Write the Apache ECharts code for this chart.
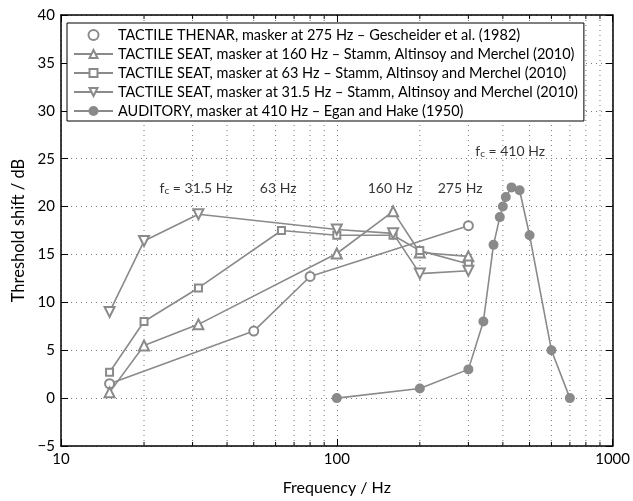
<!DOCTYPE html>
<html>
<head>
<meta charset="utf-8">
<script src="https://cdn.jsdelivr.net/npm/echarts@6/dist/echarts.min.js"></script>
<style>
html,body{margin:0;padding:0;background:#fff;}
#chart{width:633px;height:501px;}
</style>
</head>
<body>
<div id="chart"></div>
<script>
// ---------- data ----------
const seriesNames = [
  'TACTILE THENAR, masker at 275 Hz – Gescheider et al. (1982)',
  'TACTILE SEAT, masker at 160 Hz – Stamm, Altinsoy and Merchel (2010)',
  'TACTILE SEAT, masker at 63 Hz – Stamm, Altinsoy and Merchel (2010)',
  'TACTILE SEAT, masker at 31.5 Hz – Stamm, Altinsoy and Merchel (2010)',
  'AUDITORY, masker at 410 Hz – Egan and Hake (1950)'
];
const thenarFreq = [15, 50, 80, 300];
const thenarShift = [1.5, 7.0, 12.7, 18.0];
const seat160Freq = [15, 20, 31.5, 100, 160, 200, 300];
const seat160Shift = [0.6, 5.5, 7.7, 15.1, 19.5, 15.2, 14.8];
const seat63Freq = [15, 20, 31.5, 63, 100, 160, 200, 300];
const seat63Shift = [2.7, 8.0, 11.5, 17.5, 17.0, 17.0, 15.4, 14.0];
const seat31Freq = [15, 20, 31.5, 100, 160, 200, 300];
const seat31Shift = [9.0, 16.4, 19.2, 17.6, 17.2, 13.0, 13.3];
const audFreq = [100, 200, 300, 340, 370, 390, 400, 410, 430, 460, 500, 600, 700];
const audShift = [0, 1.0, 3.0, 8.0, 16.0, 18.9, 20.0, 21.0, 22.0, 21.7, 17.0, 5.0, 0];
const minorFreqs = [20, 30, 40, 50, 60, 70, 80, 90, 200, 300, 400, 500, 600, 700, 800, 900];
const annotText = ['{i|f}{s|c}{i| = 31.5 Hz}', '{i|63 Hz}', '{i|160 Hz}', '{i|275 Hz}', '{i|f}{s|c}{i| = 410 Hz}'];
const annotFreq = [30.9, 61.3, 156, 280, 425];
const annotShift = [21.9, 21.9, 21.9, 21.9, 25.8];
const xMin = 10, xMax = 1000, yMin = -5, yMax = 40, yStep = 5;

// ---------- chart ----------
const FONT = 'Lato';
const GRAY = '#8a8a8a';
const zip = (a, b) => a.map((v, i) => [v, b[i]]);

const chart = echarts.init(document.getElementById('chart'), null, {renderer: 'canvas'});

function lineSeries(name, fx, fy, symbol, size, rotate) {
  return {
    name: name, type: 'line', data: zip(fx, fy), xAxisIndex: 0, yAxisIndex: 0,
    symbol: symbol, symbolSize: size, symbolRotate: rotate || 0, showAllSymbol: true,
    color: GRAY,
    lineStyle: {color: GRAY, width: 1.6},
    itemStyle: {color: GRAY, borderColor: GRAY, borderWidth: 1.5},
    emphasis: {disabled: true}, z: 5, animation: false
  };
}

const axisCommonX = {
  type: 'log', logBase: 10, min: xMin, max: xMax,
  axisLine: {show: true, onZero: false, lineStyle: {color: '#000', width: 1.5}},
  axisTick: {show: true, inside: true, length: 7, lineStyle: {color: '#000', width: 1}},
  minorTick: {show: false}
};
const axisCommonY = {
  type: 'value', min: yMin, max: yMax, interval: yStep,
  axisLine: {show: true, onZero: false, lineStyle: {color: '#000', width: 1.5}},
  axisTick: {show: true, inside: true, length: 7, lineStyle: {color: '#000', width: 1}}
};

const option = {
  backgroundColor: '#fff',
  animation: false,
  textStyle: {fontFamily: FONT},
  grid: {left: 61, right: 16, top: 15, bottom: 46.5, containLabel: false},
  xAxis: [
    Object.assign({}, axisCommonX, {
      position: 'bottom',
      name: 'Frequency / Hz', nameLocation: 'middle', nameGap: 34,
      nameTextStyle: {fontFamily: FONT, fontSize: 16, color: '#000'},
      axisLabel: {show: true, margin: 6, fontFamily: FONT, fontSize: 15, color: '#000',
        formatter: v => String(v)},
      splitLine: {show: true, lineStyle: {color: '#777', width: 1, type: [1, 4]}}
    }),
    Object.assign({}, axisCommonX, {
      position: 'top', axisLabel: {show: false}, splitLine: {show: false}
    })
  ],
  yAxis: [
    Object.assign({}, axisCommonY, {
      position: 'left',
      name: 'Threshold shift / dB', nameLocation: 'middle', nameGap: 30, nameRotate: 90,
      nameTextStyle: {fontFamily: FONT, fontSize: 16.5, color: '#000'},
      axisLabel: {show: true, margin: 6, fontFamily: FONT, fontSize: 15, color: '#000',
        formatter: v => String(v).replace('-', '\u2212')},
      splitLine: {show: true, lineStyle: {color: '#777', width: 1, type: [1, 4]}}
    }),
    Object.assign({}, axisCommonY, {
      position: 'right', axisLabel: {show: false}, splitLine: {show: false}
    })
  ],
  legend: {
    show: true, orient: 'vertical', left: 67, top: 23,
    backgroundColor: '#fff', borderColor: '#000', borderWidth: 1,
    padding: [4, 6, 2, 6], itemWidth: 39, itemHeight: 10, itemGap: 3,
    textStyle: {fontFamily: FONT, fontSize: 14.5, color: '#000', lineHeight: 16},
    selectedMode: false,
    data: [
      {name: seriesNames[0], icon: 'emptyCircle'},
      seriesNames[1], seriesNames[2], seriesNames[3], seriesNames[4]
    ]
  },
  series: [
    {
      name: 'minor-grid', type: 'custom', xAxisIndex: 0, yAxisIndex: 0, silent: true, z: 1,
      data: minorFreqs.map(f => [f, 0]),
      renderItem: function (params, api) {
        const cs = params.coordSys;
        const x = api.coord([api.value(0), 0])[0];
        const top = cs.y, bot = cs.y + cs.height;
        return {
          type: 'group',
          children: [
            {type: 'line', shape: {x1: x, y1: top, x2: x, y2: bot},
             style: {stroke: '#777', lineWidth: 1, lineDash: [1, 4]}},
            {type: 'line', shape: {x1: x, y1: bot, x2: x, y2: bot - 4},
             style: {stroke: '#000', lineWidth: 1}},
            {type: 'line', shape: {x1: x, y1: top, x2: x, y2: top + 4},
             style: {stroke: '#000', lineWidth: 1}}
          ]
        };
      }
    },
    lineSeries(seriesNames[0], thenarFreq, thenarShift, 'emptyCircle', 9, 0),
    lineSeries(seriesNames[1], seat160Freq, seat160Shift, 'emptyTriangle', 10, 0),
    lineSeries(seriesNames[2], seat63Freq, seat63Shift, 'emptyRect', 7, 0),
    lineSeries(seriesNames[3], seat31Freq, seat31Shift, 'emptyTriangle', 10, 180),
    lineSeries(seriesNames[4], audFreq, audShift, 'circle', 8.5, 0),
    {
      name: 'annotations', type: 'scatter', xAxisIndex: 0, yAxisIndex: 0, silent: true,
      symbolSize: 1, itemStyle: {color: 'rgba(0,0,0,0)'}, z: 6,
      data: annotText.map((t, i) => ({value: [annotFreq[i], annotShift[i]], name: t})),
      label: {
        show: true, position: 'inside', color: '#000',
        formatter: p => p.name,
        rich: {
          i: {fontFamily: FONT, fontSize: 14, color: '#000'},
          s: {fontFamily: FONT, fontSize: 10, color: '#000', padding: [5, 0, 0, 0]}
        }
      }
    }
  ]
};
chart.setOption(option);
</script>
</body>
</html>
